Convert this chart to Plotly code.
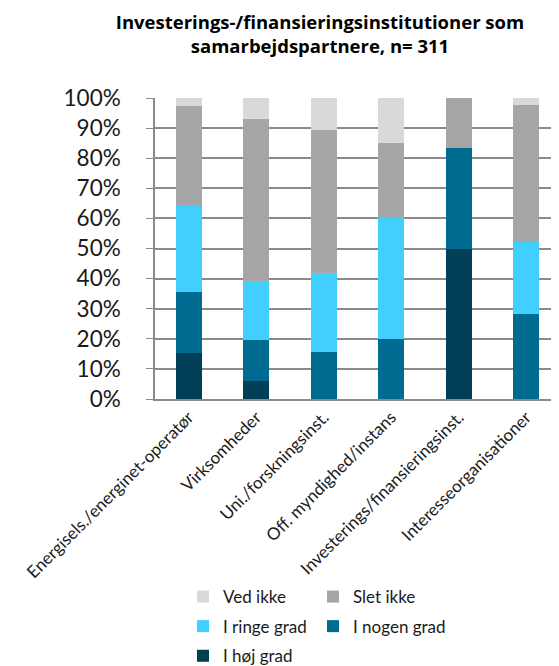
import plotly.graph_objects as go

categories = ["Energisels./energinet-operatør", "Virksomheder", "Uni./forskningsinst.",
              "Off. myndighed/instans", "Investerings/finansieringsinst.", "Interesseorganisationer"]
hoej = [15.2, 6.0, 0.0, 0.0, 50.0, 0.0]
nogen = [20.4, 13.7, 15.5, 20.0, 33.3, 28.2]
ringe = [28.4, 19.4, 26.4, 40.0, 0.0, 24.1]
slet = [33.2, 53.8, 47.5, 25.0, 16.7, 45.3]
ved = [2.8, 7.1, 10.6, 15.0, 0.0, 2.4]
ytick_vals = [0, 10, 20, 30, 40, 50, 60, 70, 80, 90, 100]
ytick_text = [f"{v}%" for v in ytick_vals]

# name, values, colour, legend column, rank within column
series = [
    ("I høj grad", hoej, "#003F56", "legend", 3),
    ("I nogen grad", nogen, "#006B91", "legend2", 2),
    ("I ringe grad", ringe, "#40CFFF", "legend", 2),
    ("Slet ikke", slet, "#A6A6A6", "legend2", 1),
    ("Ved ikke", ved, "#D9D9D9", "legend", 1),
]

FONT = "Lato"
fig = go.Figure()
for name, vals, col, lg, rank in series:
    fig.add_trace(go.Bar(x=categories, y=vals, name=name, marker=dict(color=col, line=dict(width=0)),
                         legend=lg, legendgroup=name, legendrank=rank))

W, H = 559, 666
leg_common = dict(xref="container", yref="container", xanchor="left", yanchor="top",
                  traceorder="grouped", tracegroupgap=4.5, font=dict(size=17, family=FONT, color="#1a1a1a"),
                  itemwidth=30, bgcolor="rgba(0,0,0,0)")
fig.update_layout(
    width=W, height=H, barmode="stack", bargap=0.615,
    paper_bgcolor="white", plot_bgcolor="white",
    margin=dict(l=147, r=7, t=90, b=275, autoexpand=False),
    font=dict(family=FONT, color="#1a1a1a"),
    title=dict(text="<b>Investerings-/finansieringsinstitutioner som<br>samarbejdspartnere, n= 311</b>",
               x=312 / W, xanchor="center", xref="container", y=1 - 21 / H, yanchor="top",
               yref="container", font=dict(size=18.5, family="Open Sans", color="#000000")),
    showlegend=True,
    legend=dict(x=175 / W, y=1 - 571 / H, **leg_common),
    legend2=dict(x=305 / W, y=1 - 571 / H, **leg_common),
)
fig.update_yaxes(range=[0, 100], tickvals=ytick_vals, ticktext=ytick_text, automargin=False,
                 showgrid=True, gridcolor="#8a8a8a", gridwidth=1.5,
                 showline=True, linecolor="#8a8a8a", linewidth=1.5,
                 ticks="outside", ticklen=7, tickcolor="#8a8a8a", ticklabelstandoff=21,
                 tickfont=dict(size=22.5, family=FONT, color="#1a1a1a"), zeroline=False)
fig.update_xaxes(tickangle=-45, showline=True, linecolor="#8a8a8a", linewidth=1.5, automargin=False,
                 tickfont=dict(size=17, family=FONT, color="#1a1a1a"), ticks="")
fig.write_html("out.html")
